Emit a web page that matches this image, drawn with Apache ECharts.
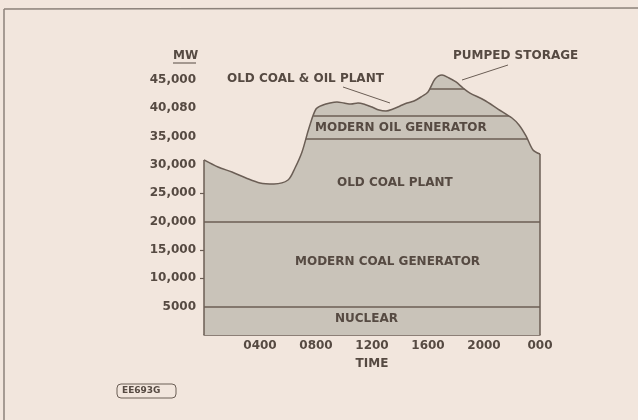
<!DOCTYPE html>
<html>
<head>
<meta charset="utf-8">
<script src="https://cdn.jsdelivr.net/npm/echarts@6/dist/echarts.min.js"></script>
<style>
  html, body { margin: 0; padding: 0; background: #f2e6dd; }
  #chart { width: 638px; height: 420px; }
</style>
</head>
<body>
<div id="chart"></div>
<script>
// time of day (hours) and total demand (MW)
const hours = [0, 1, 2, 3, 4, 5, 6, 6.5, 7, 7.5, 8, 8.5, 9, 9.5, 10, 10.5, 11, 11.5,
  12, 12.5, 13, 13.5, 14, 14.5, 15, 15.5, 16, 16.5, 17, 17.5, 18, 18.5, 19, 20, 21,
  22, 22.5, 23, 23.5, 24];
const loadMW = [30900, 29650, 28760, 27700, 26820, 26650, 27350, 29470, 32290, 36530,
  39880, 40590, 40940, 41120, 40940, 40760, 40940, 40680, 40230, 39700, 39530, 39880,
  40410, 40940, 41290, 42000, 42880, 45170, 45880, 45350, 44650, 43590, 42700, 41470,
  39880, 38290, 37060, 35120, 32650, 31940];

// boundaries between generating blocks (MW)
const nuclearTop = 5000;
const modernCoalTop = 20000;
const modernOilBottom = 34600;
const modernOilTop = 38650;
const pumpedStorageBase = 43410;

const xTickValues = [4, 8, 12, 16, 20, 24];
const xTickLabels = ["0400", "0800", "1200", "1600", "2000", "000"];
const yTickValues = [5000, 10000, 15000, 20000, 25000, 30000, 35000, 40000, 45000];
const yTickLabels = ["5000", "10,000", "15,000", "20,000", "25,000", "30,000", "35,000", "40,080", "45,000"];
const yTickMarks = [10000, 15000, 25000];

const INK = "#6b5e55";
const TEXT = "#564a42";
const FILL = "#c9c3b9";
const FONT = "DejaVu Sans";

// where the demand curve first and last reaches a level
function spanAt(level) {
  let start = null, end = null;
  for (let i = 1; i < hours.length; i++) {
    const a = loadMW[i - 1], b = loadMW[i];
    if ((a - level) * (b - level) <= 0 && a !== b) {
      const h = hours[i - 1] + (level - a) / (b - a) * (hours[i] - hours[i - 1]);
      if (start === null) start = h;
      end = h;
    }
  }
  return [[start, level], [end, level]];
}

const labelOf = (vals, labels) => (v) => {
  const i = vals.indexOf(v);
  return i < 0 ? "" : labels[i];
};

const chart = echarts.init(document.getElementById("chart"));

const txt = { fill: TEXT, font: "bold 12px '" + FONT + "'" };
const note = (text, x, y) => ({ type: "text", x, y, z: 100, style: Object.assign({ text }, txt) });
const stroke = (x1, y1, x2, y2, color, w) =>
  ({ type: "line", z: 100, shape: { x1, y1, x2, y2 }, style: { stroke: color, lineWidth: w } });

const option = {
  backgroundColor: "#f2e6dd",
  animation: false,
  grid: { left: 204, right: 98, top: 71.5, bottom: 85 },
  xAxis: {
    type: "value",
    min: 0,
    max: 24,
    interval: 4,
    name: "TIME",
    nameLocation: "middle",
    nameGap: 23,
    nameTextStyle: { color: TEXT, fontSize: 12, fontWeight: "bold", fontFamily: FONT },
    axisLine: { lineStyle: { color: INK, width: 1.5 } },
    axisTick: { show: false },
    splitLine: { show: false },
    axisLabel: {
      customValues: xTickValues,
      formatter: labelOf(xTickValues, xTickLabels),
      color: TEXT, fontSize: 12, fontWeight: "bold", fontFamily: FONT, margin: 5
    }
  },
  yAxis: {
    type: "value",
    min: 0,
    max: 46500,
    axisLine: { show: false },
    splitLine: { show: false },
    axisTick: {
      show: true,
      customValues: yTickMarks,
      length: 4,
      lineStyle: { color: INK, width: 1.2 }
    },
    axisLabel: {
      customValues: yTickValues,
      formatter: labelOf(yTickValues, yTickLabels),
      color: TEXT, fontSize: 12, fontWeight: "bold", fontFamily: FONT, margin: 8
    }
  },
  series: [
    {
      name: "Demand",
      type: "line",
      data: hours.map((h, i) => [h, loadMW[i]]),
      smooth: 0.3,
      symbol: "none",
      lineStyle: { color: INK, width: 1.5 },
      areaStyle: { color: FILL, opacity: 1 },
      markLine: {
        silent: true,
        symbol: "none",
        label: { show: false },
        lineStyle: { color: INK, width: 1.5, type: "solid" },
        data: [
          { yAxis: nuclearTop },
          { yAxis: modernCoalTop },
          [{ coord: [hours[0], 0] }, { coord: [hours[0], loadMW[0]] }],
          [{ coord: [hours[hours.length - 1], 0] }, { coord: [hours[hours.length - 1], loadMW[loadMW.length - 1]] }]
        ]
      }
    },
    {
      name: "Modern oil bottom",
      type: "line",
      data: spanAt(modernOilBottom),
      symbol: "none",
      lineStyle: { color: INK, width: 1.5 }
    },
    {
      name: "Modern oil top",
      type: "line",
      data: spanAt(modernOilTop),
      symbol: "none",
      lineStyle: { color: INK, width: 1.5 }
    },
    {
      name: "Pumped storage",
      type: "line",
      data: spanAt(pumpedStorageBase),
      symbol: "none",
      lineStyle: { color: INK, width: 1.5 }
    }
  ],
  graphic: [
    // page frame
    stroke(4, 9, 638, 8, "#8c827a", 1.5),
    stroke(4, 9, 4, 420, "#8c827a", 1.5),
    // unit
    note("MW", 173, 50),
    stroke(173, 63, 196, 63, TEXT, 1),
    // block annotations
    note("OLD COAL & OIL PLANT", 227, 73),
    stroke(343, 87, 390, 103, INK, 1),
    note("PUMPED STORAGE", 453, 50),
    stroke(462, 80, 508, 65, INK, 1),
    note("MODERN OIL GENERATOR", 315, 122),
    note("OLD COAL PLANT", 337, 177),
    note("MODERN COAL GENERATOR", 295, 256),
    note("NUCLEAR", 335, 313),
    // drawing reference tag
    { type: "rect", z: 100, shape: { x: 117, y: 384, width: 59, height: 14, r: 4 }, style: { fill: "none", stroke: INK, lineWidth: 1 } },
    { type: "text", z: 100, x: 122, y: 386, style: { text: "EE693G", fill: TEXT, font: "bold 9px '" + FONT + "'" } }
  ]
};

chart.setOption(option);
</script>
</body>
</html>
